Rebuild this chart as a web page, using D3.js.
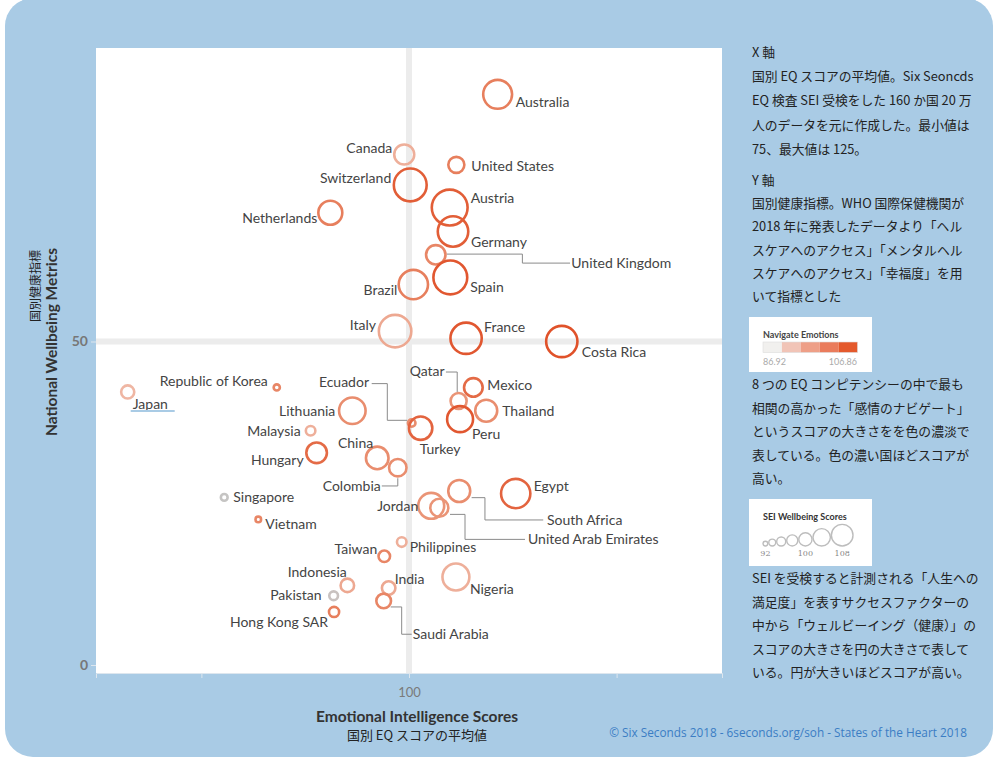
<!DOCTYPE html>
<html><head><meta charset="utf-8">
<script src="https://cdn.jsdelivr.net/npm/d3@7/dist/d3.min.js"></script>
<style>body{margin:0;background:#fff;} svg{display:block}</style>
</head><body><svg id="c" width="1000" height="758"></svg>
<script>
// ---------------- DATA ----------------
const countries = ["Australia","Canada","United States","Switzerland","Netherlands","Austria","Germany","United Kingdom","Spain","Brazil","Italy","France","Costa Rica","Japan","Republic of Korea","Ecuador","Lithuania","Turkey","Malaysia","Hungary","China","Colombia","Qatar","Mexico","Thailand","Peru","Singapore","Vietnam","Jordan","United Arab Emirates","Egypt","South Africa","Taiwan","Philippines","Indonesia","India","Pakistan","Saudi Arabia","Hong Kong SAR","Nigeria"];
// X: Emotional Intelligence score (country average)
const eqScores = [104.27,99.77,102.28,100.06,96.21,101.96,102.12,101.29,101.99,100.21,99.33,102.75,107.36,86.45,93.63,100.13,97.27,100.56,95.26,95.55,98.47,99.46,102.39,103.10,103.72,102.46,91.10,92.74,101.07,101.46,105.14,102.42,98.81,99.65,97.03,99.02,96.37,98.78,96.39,102.26];
// Y: National Wellbeing Metrics
const wellbeingMetric = [88.2,78.9,77.3,74.2,69.9,70.7,67.0,63.4,59.9,58.8,51.6,50.5,50.0,42.2,42.9,37.4,39.3,36.6,36.2,32.8,32.0,30.5,40.8,42.9,39.3,38.0,25.9,22.5,24.6,24.3,26.5,26.9,16.8,19.0,12.3,11.9,10.7,9.9,8.2,13.6];
// Circle size: SEI Wellbeing score
const seiWellbeing = [104.0,99.5,97.5,106.0,101.5,107.5,104.8,99.2,106.5,104.2,105.8,105.2,105.2,96.0,92.5,93.2,102.8,101.2,94.2,99.8,100.8,98.2,97.5,98.8,100.5,102.5,92.8,92.2,102.5,98.5,104.2,100.5,95.2,94.2,96.2,96.2,93.8,96.8,94.5,103.0];
// Colour: Navigate Emotions score
const navigateEmotions = [100,93,100,105,100,105,105,99,106,100,94,106,106.8,92,99,98,98,104,93,103,98,98,97,103,98,106,87,99,97,97,104,98,99,93,94,94,87.5,99,100,93];

const xTicks = [90,100,110];
const xTickLabels = ["","100",""];
const yTicks = [0,50];
const navLegendRange = [86.92,106.86];
const navLegendSteps = [0,1,2,3,4];
const seiLegendValues = [92,94,96,98,100,104,108];
const seiLegendLabels = [92,100,108];

const panelTextX = ["X 軸","国別 EQ スコアの平均値。Six Seoncds","EQ 検査 SEI 受検をした 160 か国 20 万","人のデータを元に作成した。最小値は","75、最大値は 125。"];
const panelTextY = ["Y 軸","国別健康指標。WHO 国際保健機関が","2018 年に発表したデータより「ヘル","スケアへのアクセス」「メンタルヘル","スケアへのアクセス」「幸福度」を用","いて指標とした"];
const panelTextNav = ["8 つの EQ コンピテンシーの中で最も","相関の高かった「感情のナビゲート」","というスコアの大きさをを色の濃淡で","表している。色の濃い国ほどスコアが","高い。"];
const panelTextSei = ["SEI を受検すると計測される「人生への","満足度」を表すサクセスファクターの","中から「ウェルビーイング（健康）」の","スコアの大きさを円の大きさで表して","いる。円が大きいほどスコアが高い。"];

// ---------------- LABEL LAYOUT (px offsets from circle centre) ----------------
const labelLayout = {
 "Australia":{dx:18,dy:8,a:"start"},
 "Canada":{dx:-12,dy:-6,a:"end"},
 "United States":{dx:15,dy:1,a:"start"},
 "Switzerland":{dx:-19,dy:-7,a:"end"},
 "Netherlands":{dx:-13,dy:5,a:"end"},
 "Austria":{dx:21,dy:-9,a:"start"},
 "Germany":{dx:18,dy:11,a:"start"},
 "United Kingdom":{dx:135.5,dy:8.3,a:"start",line:[[11,-0.7],[86.6,-0.7],[86.6,8.3],[134.3,8.3]]},
 "Spain":{dx:20,dy:10,a:"start"},
 "Brazil":{dx:-16,dy:6,a:"end"},
 "Italy":{dx:-19,dy:-6,a:"end"},
 "France":{dx:18,dy:-11,a:"start"},
 "Costa Rica":{dx:20,dy:11,a:"start"},
 "Japan":{dx:5,dy:12,a:"start",underline:true},
 "Republic of Korea":{dx:-9,dy:-6,a:"end"},
 "Ecuador":{dx:-42.7,dy:-40.7,a:"end",line:[[-40,-39.4],[-24.4,-39.4],[-24.4,-2.7],[-4.4,-2.7]]},
 "Lithuania":{dx:-17,dy:0,a:"end"},
 "Turkey":{dx:-1,dy:21,a:"start"},
 "Malaysia":{dx:-10,dy:0,a:"end"},
 "Hungary":{dx:-13,dy:7,a:"end"},
 "China":{dx:-4,dy:-15,a:"end"},
 "Colombia":{dx:-17,dy:18.3,a:"end",line:[[0,10.6],[0,18.3],[-16,18.3]]},
 "Qatar":{dx:-14,dy:-29.5,a:"end",line:[[-12.7,-29],[-1.4,-29],[-1.4,-8.6]]},
 "Mexico":{dx:14,dy:-2,a:"start"},
 "Thailand":{dx:16,dy:0,a:"start"},
 "Peru":{dx:12,dy:15,a:"start"},
 "Singapore":{dx:9,dy:0,a:"start"},
 "Vietnam":{dx:7,dy:5,a:"start"},
 "Jordan":{dx:-13,dy:0,a:"end"},
 "United Arab Emirates":{dx:88.7,dy:31.6,a:"start",line:[[10.7,6.6],[25.7,6.6],[25.7,31.6],[85.7,31.6]]},
 "Egypt":{dx:18,dy:-7,a:"start"},
 "South Africa":{dx:87.7,dy:29,a:"start",line:[[12.4,6.7],[25.7,6.7],[25.7,29],[84,29]]},
 "Taiwan":{dx:-7,dy:-7,a:"end"},
 "Philippines":{dx:8,dy:5.5,a:"start"},
 "Indonesia":{dx:-0.6,dy:-13,a:"end"},
 "India":{dx:6,dy:-9,a:"start"},
 "Pakistan":{dx:-12,dy:-1,a:"end"},
 "Saudi Arabia":{dx:29,dy:33.3,a:"start",line:[[7,6],[18,6],[18,33.3],[28,33.3]]},
 "Hong Kong SAR":{dx:-6,dy:10,a:"end"},
 "Nigeria":{dx:14,dy:12,a:"start"}
};

// ---------------- DRAW ----------------
const svg = d3.select("#c");
const CJK = "'Noto Sans CJK JP','Noto Sans',sans-serif";
const LAT = "Lato,'Noto Sans',sans-serif";

svg.append("rect").attr("x",5).attr("y",-2).attr("width",988).attr("height",759).attr("rx",28).attr("fill","#a9cbe5");

const plot = {l:96,r:722,t:48,b:673};
svg.append("rect").attr("x",plot.l).attr("y",plot.t).attr("width",plot.r-plot.l).attr("height",plot.b-plot.t).attr("fill","#fff");

const x = d3.scaleLinear().domain([100 + (plot.l-409)/20.76, 100 + (plot.r-409)/20.76]).range([plot.l,plot.r]);
const y = d3.scaleLinear().domain([(665-plot.b)/6.47, (665-plot.t)/6.47]).range([plot.b,plot.t]);
const r = d3.scaleLinear().domain([92,108]).range([2.6,18.4]);
const col = d3.scaleLinear().domain([86.92,92,97,102,106.86]).range(["#c4c4c4","#efb6a3","#ea9476","#e5714d","#e0522a"]);

// grid lines at 100 / 50
svg.append("line").attr("x1",x(100)).attr("x2",x(100)).attr("y1",plot.t).attr("y2",plot.b).attr("stroke","#ececec").attr("stroke-width",6);
svg.append("line").attr("x1",plot.l).attr("x2",plot.r).attr("y1",y(50)).attr("y2",y(50)).attr("stroke","#ececec").attr("stroke-width",6);

// axes
const xAxis = d3.axisBottom(x).tickValues(xTicks).tickSize(5).tickFormat((d,i)=>xTickLabels[i]);
const gx = svg.append("g").attr("transform",`translate(0,${plot.b})`).call(xAxis);
gx.select(".domain").attr("stroke","#dde6ee");
gx.selectAll(".tick line").attr("stroke","#dde6ee");
gx.selectAll(".tick text").attr("fill","#7a7a7a").attr("font-family",LAT).attr("font-size",13).attr("dy","1.25em");

const yAxis = d3.axisLeft(y).tickValues(yTicks).tickSize(5).tickPadding(3);
const gy = svg.append("g").attr("transform",`translate(${plot.l},0)`).call(yAxis);
gy.select(".domain").remove();
gy.selectAll(".tick line").attr("stroke","#dde6ee");
gy.selectAll(".tick text").attr("fill","#777").attr("font-family",LAT).attr("font-weight","bold").attr("font-size",14);

// data
const data = countries.map((c,i)=>({name:c,x:eqScores[i],y:wellbeingMetric[i],s:seiWellbeing[i],n:navigateEmotions[i]}));

// leader lines
const lineGen = d3.line();
svg.append("g").selectAll("path").data(data.filter(d=>labelLayout[d.name].line)).join("path")
  .attr("d",d=>lineGen(labelLayout[d.name].line.map(p=>[x(d.x)+p[0],y(d.y)+p[1]])))
  .attr("fill","none").attr("stroke","#8a8a8a").attr("stroke-width",1);

// circles
svg.append("g").selectAll("circle").data(data).join("circle")
  .attr("cx",d=>x(d.x)).attr("cy",d=>y(d.y)).attr("r",d=>r(d.s))
  .attr("fill","none").attr("stroke",d=>col(d.n)).attr("stroke-width",2.6);

// labels
svg.append("g").selectAll("text").data(data).join("text")
  .attr("x",d=>x(d.x)+labelLayout[d.name].dx).attr("y",d=>y(d.y)+labelLayout[d.name].dy)
  .attr("dy","0.35em").attr("text-anchor",d=>labelLayout[d.name].a)
  .attr("font-family",LAT).attr("font-size",14).attr("fill","#444").text(d=>d.name);

// Japan underline
data.filter(d=>labelLayout[d.name].underline).forEach(d=>{
  const lx = x(d.x)+labelLayout[d.name].dx, ly = y(d.y)+labelLayout[d.name].dy;
  svg.append("line").attr("x1",lx-2).attr("x2",lx+42).attr("y1",ly+7).attr("y2",ly+7).attr("stroke","#a9cbe5").attr("stroke-width",2);
});

// axis titles
svg.append("text").attr("x",417).attr("y",722).attr("text-anchor","middle").attr("font-family",LAT).attr("font-weight","bold").attr("font-size",15.5).attr("fill","#333").text("Emotional Intelligence Scores");
svg.append("text").attr("x",417).attr("y",740).attr("text-anchor","middle").attr("font-family",CJK).attr("font-size",13).attr("fill","#222").text("国別 EQ スコアの平均値");
svg.append("text").attr("transform","translate(57,342) rotate(-90)").attr("text-anchor","middle").attr("font-family",LAT).attr("font-weight","bold").attr("font-size",15.5).attr("fill","#333").text("National Wellbeing Metrics");
svg.append("text").attr("transform","translate(40,250) rotate(-90)").attr("text-anchor","end").attr("font-family",CJK).attr("font-size",12).attr("fill","#222").text("国別健康指標");

// right panel text
function block(lines, y0, lh){
  svg.append("g").selectAll("text").data(lines).join("text")
    .attr("x",752).attr("y",(d,i)=>y0+i*lh).attr("font-family",CJK).attr("font-size",12.8).attr("fill","#222").text(d=>d);
}
block(panelTextX, 57, 24.2);
block(panelTextY, 185, 23.2);
block(panelTextNav, 389, 23.5);
block(panelTextSei, 583, 23.5);

// Navigate Emotions legend
svg.append("rect").attr("x",749).attr("y",317).attr("width",123).attr("height",55).attr("fill","#fff");
svg.append("text").attr("x",763).attr("y",338).attr("font-family",LAT).attr("font-weight","bold").attr("font-size",9).attr("fill","#444").text("Navigate Emotions");
const swatchCol = ["#f1f0ee","#f1c4b7","#ee9f87","#ea7c5c","#e4592c"];
const sx = d3.scaleBand().domain(navLegendSteps).range([763,857.5]);
svg.append("g").selectAll("rect").data(navLegendSteps).join("rect")
  .attr("x",d=>sx(d)).attr("y",342).attr("width",sx.bandwidth()).attr("height",10.5).attr("fill",d=>swatchCol[d]);
svg.append("rect").attr("x",763).attr("y",342).attr("width",94.5).attr("height",10.5).attr("fill","none").attr("stroke","#ddd").attr("stroke-width",0.6);
svg.append("text").attr("x",763).attr("y",364.5).attr("font-family",LAT).attr("font-size",9).attr("fill","#aaa").text(navLegendRange[0].toFixed(2));
svg.append("text").attr("x",857).attr("y",364.5).attr("text-anchor","end").attr("font-family",LAT).attr("font-size",9).attr("fill","#aaa").text(navLegendRange[1].toFixed(2));

// SEI Wellbeing legend
svg.append("rect").attr("x",749).attr("y",499).attr("width",123).attr("height",67).attr("fill","#fff");
svg.append("text").attr("x",763).attr("y",520).attr("font-family",LAT).attr("font-weight","bold").attr("font-size",9).attr("fill","#333").text("SEI Wellbeing Scores");
const lr = d3.scaleLinear().domain([92,108]).range([2.4,10.8]);
let cx = 763, centers = {};
seiLegendValues.forEach((v,i)=>{ const rr = lr(v); cx += (i? 1: 0) + rr; centers[v]=cx; 
  svg.append("circle").attr("cx",cx).attr("cy",546-rr).attr("r",rr).attr("fill","none").attr("stroke","#bdbdbd").attr("stroke-width",1.4);
  cx += rr; });
svg.append("g").selectAll("text").data(seiLegendLabels).join("text")
  .attr("x",d=>centers[d]).attr("y",556).attr("text-anchor","middle").attr("font-family","'DejaVu Serif',serif").attr("font-size",8).attr("fill","#888").text(d=>d);

// footer
svg.append("text").attr("x",967).attr("y",737).attr("text-anchor","end").attr("font-family","'Open Sans',sans-serif").attr("font-size",11.8).attr("fill","#3b7dc4").text("© Six Seconds  2018 - 6seconds.org/soh - States of the Heart 2018");
</script></body></html>
